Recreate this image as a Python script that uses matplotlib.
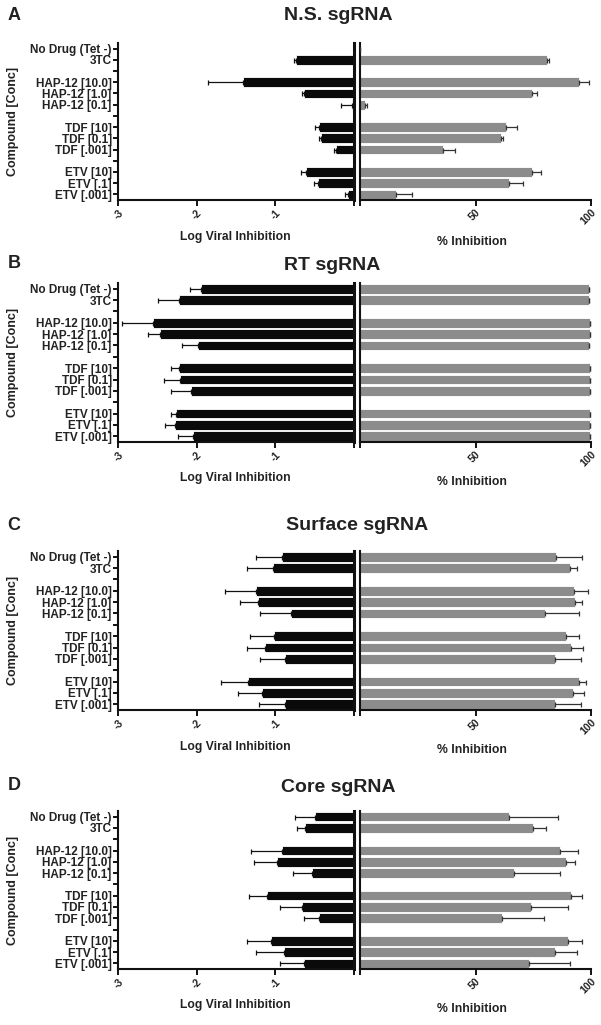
import numpy as np
import matplotlib.pyplot as plt

plt.rcParams["font.family"] = ["Liberation Sans", "DejaVu Sans"]
plt.rcParams["font.weight"] = "bold"
plt.rcParams["axes.unicode_minus"] = False

# row labels (blank rows are the gaps between compound groups)
row_labels = ["No Drug (Tet -)", "3TC", "",
              "HAP-12 [10.0]", "HAP-12 [1.0]", "HAP-12 [0.1]", "",
              "TDF [10]", "TDF [0.1]", "TDF [.001]", "",
              "ETV [10]", "ETV [.1]", "ETV [.001]"]

titles = ["N.S. sgRNA", "RT sgRNA", "Surface sgRNA", "Core sgRNA"]
letters = ["A", "B", "C", "D"]

# log viral inhibition (left, black) and one-sided error
ns_log = [0, -0.74, -1.41, -0.63, -0.02, -0.44, -0.42, -0.23, -0.61, -0.46, -0.08]
ns_log_err = [0, 0.02, 0.44, 0.03, 0.14, 0.05, 0.02, 0.03, 0.06, 0.05, 0.03]
rt_log = [-1.94, -2.22, -2.56, -2.47, -1.98, -2.22, -2.21, -2.07, -2.26, -2.28, -2.05]
rt_log_err = [0.15, 0.27, 0.39, 0.15, 0.21, 0.10, 0.20, 0.25, 0.06, 0.12, 0.19]
surf_log = [-0.92, -1.03, -1.25, -1.22, -0.80, -1.02, -1.13, -0.88, -1.35, -1.17, -0.88]
surf_log_err = [0.32, 0.33, 0.39, 0.23, 0.40, 0.30, 0.23, 0.31, 0.34, 0.31, 0.33]
core_log = [-0.50, -0.62, -0.92, -0.98, -0.53, -1.11, -0.66, -0.45, -1.05, -0.89, -0.64]
core_log_err = [0.25, 0.10, 0.39, 0.29, 0.25, 0.22, 0.28, 0.19, 0.31, 0.35, 0.30]

# % inhibition (right, gray) and one-sided error
ns_pct = [0, 81, 95, 74.5, 2, 63, 61, 36, 74.5, 64.5, 15.5]
ns_pct_err = [0, 1, 4, 2, 1, 5, 1, 5, 4, 6, 7]
rt_pct = [99, 99, 99.5, 99.5, 99, 99.5, 99.5, 99.5, 99.5, 99.5, 99.5]
rt_pct_err = [0, 0, 0, 0, 0, 0, 0, 0, 0, 0, 0]
surf_pct = [85, 91, 92.5, 93, 80, 89, 91.5, 84.5, 95, 92, 84.5]
surf_pct_err = [11, 3, 6, 3, 15, 6, 5, 11, 3, 5, 11]
core_pct = [64.5, 75, 86.5, 89, 66.5, 91.5, 74, 61.5, 90, 84.5, 73]
core_pct_err = [21, 5.5, 8, 4, 20, 4.5, 16, 18, 6, 9.5, 18]

log_sets = [(ns_log, ns_log_err), (rt_log, rt_log_err),
            (surf_log, surf_log_err), (core_log, core_log_err)]
pct_sets = [(ns_pct, ns_pct_err), (rt_pct, rt_pct_err),
            (surf_pct, surf_pct_err), (core_pct, core_pct_err)]

W, H = 601, 1025
fig = plt.figure(figsize=(W / 100, H / 100), dpi=100)


def fx(x):
    return x / W


def fy(y):
    return 1 - y / H


# rows that hold data (skip the gap rows)
rows = np.array([i for i, lab in enumerate(row_labels) if lab != ""])

tops = [43, 283, 551, 811]
bottoms = [200, 442, 710, 969]
title_x = [338, 332, 357, 338]
title_y = [15, 266, 525, 787]
letter_y = [16, 264, 525, 786]
xlab_y = [237, 478, 747, 1005]
pct_lab_y = [242, 482, 750, 1009]

gray = "#8c8c8c"

for k in range(4):
    top, bot = tops[k], bottoms[k]
    h = (bot - top) / H

    ax1 = fig.add_axes([fx(118), fy(bot), (354 - 118) / W, h])
    ax2 = fig.add_axes([fx(360), fy(bot), (591 - 360) / W, h])

    vals, err = log_sets[k]
    vals = np.array(vals)
    err = np.array(err)
    ax1.barh(rows, vals, height=0.86, color="#0a0a0a",
             edgecolor="white", linewidth=0.6, zorder=2)
    ax1.errorbar(vals, rows, xerr=[err, np.zeros_like(err)], fmt="none",
                 ecolor="#111111", elinewidth=0.9, capsize=1.8, capthick=0.9,
                 zorder=3)

    pv, pe = pct_sets[k]
    pv = np.array(pv)
    pe = np.array(pe)
    ax2.barh(rows, pv, height=0.86, color=gray,
             edgecolor="white", linewidth=0.6, zorder=2)
    ax2.errorbar(pv, rows, xerr=[np.zeros_like(pe), pe], fmt="none",
                 ecolor="#333333", elinewidth=0.9, capsize=1.8, capthick=0.9,
                 zorder=3)

    ax1.set_xlim(-3, 0)
    ax2.set_xlim(0, 100)
    for ax in (ax1, ax2):
        ax.set_ylim(13.5, -0.5)
        ax.spines["top"].set_visible(False)
        for s in ax.spines.values():
            s.set_linewidth(1.5)
            s.set_color("#111111")
        ax.tick_params(axis="x", length=4, width=1.3, pad=1.5, labelsize=7.5)

    ax1.spines["right"].set_linewidth(2.2)
    ax2.spines["right"].set_visible(False)

    ax1.set_yticks(range(len(row_labels)))
    ax1.set_yticklabels(row_labels, fontsize=8.5, fontweight="bold",
                        color="#222222")
    ax1.tick_params(axis="y", length=3.5, width=1.3, pad=1)
    ax2.set_yticks([])

    ax1.set_xticks([-3, -2, -1, 0])
    ax1.set_xticklabels(["-3", "-2", "-1", ""])
    ax2.set_xticks([0, 50, 100])
    ax2.set_xticklabels(["", "50", "100"])
    for ax in (ax1, ax2):
        for t in ax.get_xticklabels():
            t.set_rotation(45)
            t.set_ha("right")
            t.set_rotation_mode("anchor")
            t.set_fontweight("bold")
            t.set_color("#222222")

    fig.text(fx(235), fy(xlab_y[k]), "Log Viral Inhibition", fontsize=8.7,
             fontweight="bold", ha="center", va="center", color="#222222")
    fig.text(fx(472), fy(pct_lab_y[k]), "% Inhibition", fontsize=8.8,
             fontweight="bold", ha="center", va="center", color="#222222")
    fig.text(fx(13), fy((top + bot) / 2), "Compound [Conc]", fontsize=9,
             fontweight="bold", rotation=90, ha="center", va="center",
             color="#222222")
    fig.text(fx(title_x[k]), fy(title_y[k]), titles[k], fontsize=14,
             fontweight="bold", ha="center", va="center", color="#222222")
    fig.text(fx(14), fy(letter_y[k]), letters[k], fontsize=13,
             fontweight="bold", ha="center", va="center", color="#222222")

plt.savefig("out.png", dpi=100)
plt.close()
